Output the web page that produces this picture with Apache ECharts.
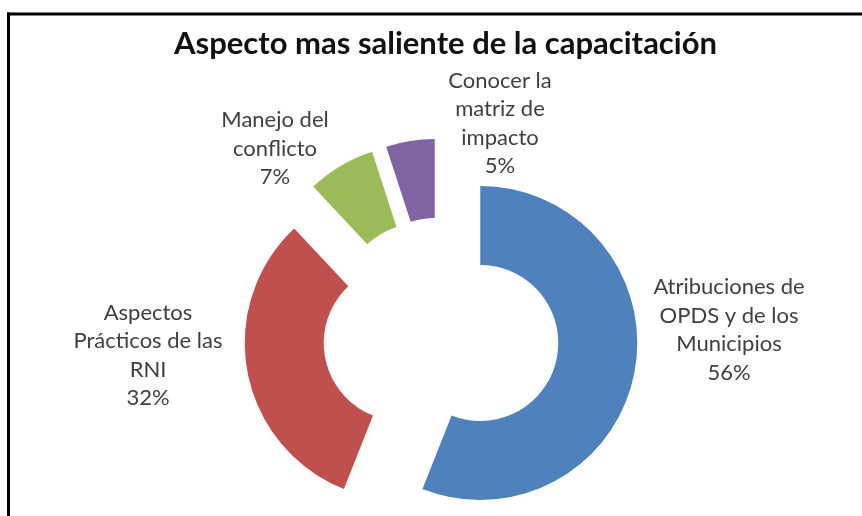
<!DOCTYPE html>
<html>
<head>
<meta charset="utf-8">
<script src="https://cdn.jsdelivr.net/npm/echarts@6/dist/echarts.min.js"></script>
<style>
html,body{margin:0;padding:0;background:#fff;}
#chart{width:862px;height:516px;}
</style>
</head>
<body>
<div id="chart"></div>
<script>
const titleText = 'Aspecto mas saliente de la capacitación';
const categories = [
  'Atribuciones de\nOPDS y de los\nMunicipios',
  'Aspectos\nPrácticos de las\nRNI',
  'Manejo del\nconflicto',
  'Conocer la\nmatriz de\nimpacto'
];
const values = [56, 32, 7, 5];
const sliceColors = ['#4F81BD', '#C0504D', '#9BBB59', '#8064A2'];
// label block centres (text layout only)
const labelCentres = [[729, 330], [148, 355.5], [275, 148.5], [500, 123.5]];

const labelTexts = categories.map((c, i) => ({
  type: 'text',
  silent: true,
  x: labelCentres[i][0],
  y: labelCentres[i][1],
  style: {
    text: c + '\n' + values[i] + '%',
    fontFamily: 'Lato',
    fontSize: 22,
    lineHeight: 28.5,
    fill: '#404040',
    align: 'center',
    verticalAlign: 'middle'
  }
}));

const chart = echarts.init(document.getElementById('chart'), null, {renderer: 'canvas'});
chart.setOption({
  animation: false,
  backgroundColor: '#fff',
  graphic: [
    {type: 'line', silent: true, shape: {x1: 7, y1: 14, x2: 862, y2: 14}, style: {stroke: '#000', lineWidth: 3}},
    {type: 'line', silent: true, shape: {x1: 8.5, y1: 12.5, x2: 8.5, y2: 516}, style: {stroke: '#000', lineWidth: 3}},
    {type: 'text', silent: true, x: 445.5, y: 43.5,
      style: {text: titleText, fontFamily: 'Lato', fontWeight: 'bold', fontSize: 31, fill: '#111',
        align: 'center', verticalAlign: 'middle'}}
  ].concat(labelTexts),
  series: [{
    type: 'pie',
    center: [441, 335.5],
    radius: [78, 157],
    startAngle: 90,
    clockwise: true,
    selectedMode: 'multiple',
    selectedOffset: 40,
    emphasis: {disabled: true, scale: false},
    label: {show: false},
    labelLine: {show: false},
    data: categories.map((c, i) => ({
      name: c,
      value: values[i],
      selected: true,
      itemStyle: {color: sliceColors[i]}
    }))
  }]
});
</script>
</body>
</html>
